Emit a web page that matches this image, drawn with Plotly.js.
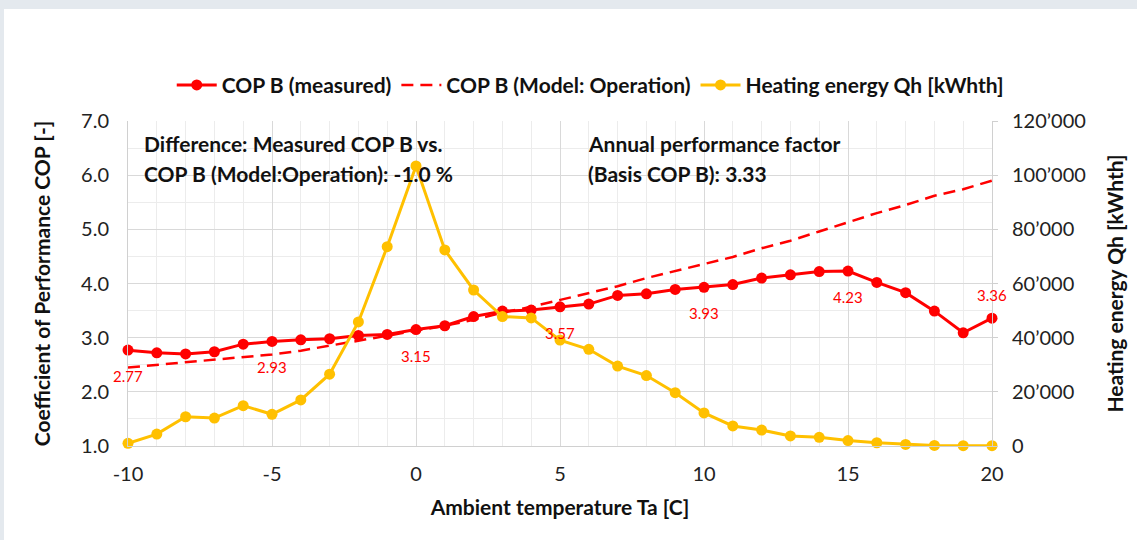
<!DOCTYPE html>
<html>
<head>
<meta charset="utf-8">
<script src="https://cdn.plot.ly/plotly-3.0.1.min.js"></script>
<style>
  html, body { margin:0; padding:0; background:#e4e9ee; width:1137px; height:540px; overflow:hidden; }
  #chart { position:absolute; left:4px; top:9px; width:1133px; height:531px; background:#fff; }
</style>
</head>
<body>
<div id="chart"></div>
<script>
// Ambient temperature Ta [C]
const temps = [-10,-9,-8,-7,-6,-5,-4,-3,-2,-1,0,1,2,3,4,5,6,7,8,9,10,11,12,13,14,15,16,17,18,19,20];
// COP B (measured)
const copMeasured = [2.77,2.72,2.70,2.74,2.88,2.93,2.96,2.98,3.04,3.06,3.15,3.22,3.39,3.49,3.51,3.57,3.62,3.78,3.81,3.89,3.93,3.98,4.10,4.16,4.22,4.23,4.02,3.83,3.49,3.09,3.36];
// COP B (Model: Operation)
const copModel = [2.45,2.50,2.55,2.59,2.64,2.69,2.76,2.85,2.95,3.04,3.12,3.22,3.33,3.46,3.57,3.70,3.83,3.95,4.10,4.23,4.37,4.49,4.65,4.79,4.96,5.13,5.30,5.45,5.62,5.74,5.90];
// Heating energy Qh [kWhth]
const heatEnergy = [1000,4400,10800,10300,14900,11700,17000,26500,45800,73600,103400,72400,57600,47800,47300,39100,35700,29500,26000,19700,12200,7400,5900,3700,3200,2000,1200,600,200,100,100];
// data labels shown on the measured curve
const labelTemps = [-10,-5,0,5,10,15,20];
const labelAbove = [20];
// axis ticks
const xTickVals = [-10,-5,0,5,10,15,20];
const xTickText = ["-10","-5","0","5","10","15","20"];
const leftTicks = [1,2,3,4,5,6,7];
const rightTickVals = [0,20000,40000,60000,80000,100000,120000];
const rightTickText = ["0","20’000","40’000","60’000","80’000","100’000","120’000"];

const RED = "#ff0000", YEL = "#ffc000";
const FONT = "Lato, 'Noto Sans', sans-serif";
const BOLD = {family: FONT, size: 21, color: "#111", weight: "bold"};
const TICK = {family: FONT, size: 20, color: "#222"};

const traces = [
  {
    x: temps, y: copMeasured, name: "COP B (measured)", type: "scatter", mode: "lines+markers",
    line: {color: RED, width: 3}, marker: {color: RED, size: 11}, cliponaxis: false
  },
  {
    x: temps, y: copModel, name: "COP B (Model: Operation)", type: "scatter", mode: "lines",
    line: {color: RED, width: 2.5, dash: "12px,7px"}
  },
  {
    x: temps, y: heatEnergy, name: "Heating energy Qh [kWhth]", type: "scatter", mode: "lines+markers",
    yaxis: "y2", line: {color: YEL, width: 3}, marker: {color: YEL, size: 11}, cliponaxis: false
  }
];

const annotations = [
  {xref: "x", yref: "y", x: -9.5, y: 6.58, xanchor: "left", yanchor: "middle", showarrow: false,
   text: "Difference: Measured COP B vs.", font: BOLD},
  {xref: "x", yref: "y", x: -9.5, y: 6.04, xanchor: "left", yanchor: "middle", showarrow: false,
   text: "COP B (Model:Operation): -1.0 %", font: BOLD},
  {xref: "x", yref: "y", x: 5.9, y: 6.58, xanchor: "left", yanchor: "middle", showarrow: false,
   text: "Annual performance factor", font: BOLD},
  {xref: "x", yref: "y", x: 5.9, y: 6.04, xanchor: "left", yanchor: "middle", showarrow: false,
   text: "(Basis COP B): 3.33", font: BOLD}
];
temps.forEach((t, i) => {
  if (!labelTemps.includes(t)) return;
  const above = labelAbove.includes(t);
  annotations.push({
    xref: "x", yref: "y", x: t, y: copMeasured[i], showarrow: false,
    xanchor: "center", yanchor: "middle", yshift: above ? 23 : -26,
    text: copMeasured[i].toFixed(2), font: {family: FONT, size: 15, color: RED}
  });
});

const layout = {
  width: 1133, height: 531,
  margin: {l: 124, r: 145, t: 112, b: 94},
  paper_bgcolor: "#ffffff", plot_bgcolor: "#ffffff",
  font: {family: FONT, size: 20, color: "#222"},
  showlegend: true,
  legend: {orientation: "h", x: 0.535, xanchor: "center", y: 1.11, yanchor: "middle",
           font: BOLD, traceorder: "normal", itemwidth: 40},
  xaxis: {
    range: [-10, 20], tickvals: xTickVals, ticktext: xTickText, ticks: "", ticklabelstandoff: 10,
    showgrid: true, gridcolor: "#d9d9d9", gridwidth: 1,
    minor: {dtick: 1, showgrid: true, gridcolor: "#ececec", gridwidth: 1},
    showline: true, linecolor: "#d0d0d0", zeroline: false,
    tickfont: TICK,
    title: {text: "Ambient temperature Ta [C]", font: BOLD, standoff: 16}
  },
  yaxis: {
    range: [1, 7], tickvals: leftTicks, tickformat: ".1f", ticks: "", ticklabelstandoff: 14,
    showgrid: true, gridcolor: "#d9d9d9", gridwidth: 1,
    minor: {dtick: 0.5, showgrid: true, gridcolor: "#ececec", gridwidth: 1},
    showline: true, linecolor: "#d0d0d0", zeroline: false,
    tickfont: TICK,
    title: {text: "Coefficient of Performance COP [-]", font: BOLD, standoff: 24}
  },
  yaxis2: {
    overlaying: "y", side: "right", range: [0, 120000], tickvals: rightTickVals, ticktext: rightTickText,
    showgrid: false, zeroline: false, showline: true, linecolor: "#d0d0d0",
    ticks: "outside", ticklen: 5, tickcolor: "#d0d0d0", ticklabelstandoff: 10,
    tickfont: TICK,
    title: {text: "Heating energy Qh [kWhth]", font: BOLD, standoff: 23}
  },
  annotations: annotations
};

Plotly.newPlot("chart", traces, layout, {displayModeBar: false, staticPlot: true});
</script>
</body>
</html>
